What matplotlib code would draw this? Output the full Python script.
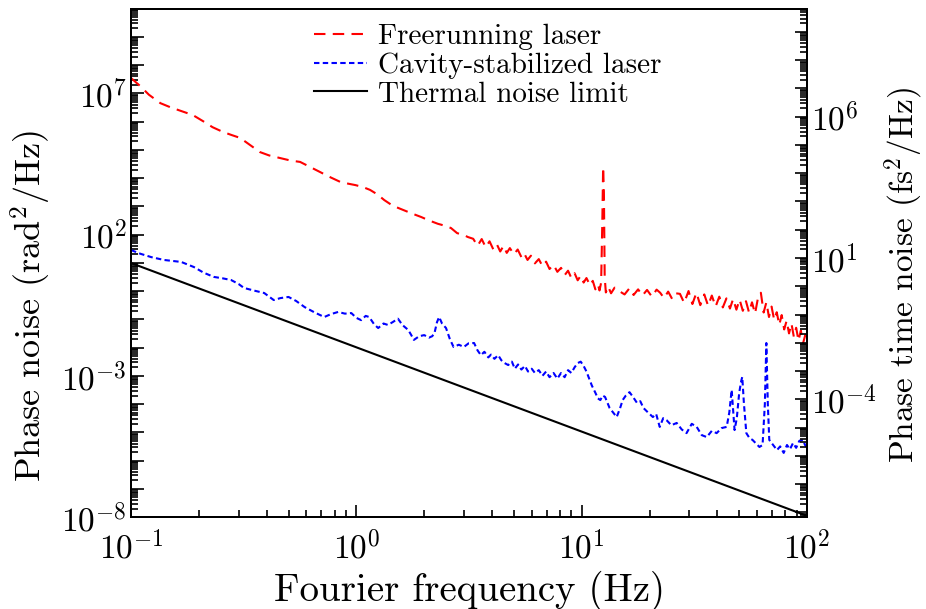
import numpy as np
import matplotlib
matplotlib.use("Agg")
import matplotlib.pyplot as plt
from matplotlib.ticker import FixedLocator, FuncFormatter, NullFormatter

plt.rcParams['font.family'] = 'serif'
plt.rcParams['font.serif'] = ['cmr10', 'DejaVu Serif']
plt.rcParams['mathtext.fontset'] = 'cm'
plt.rcParams['axes.unicode_minus'] = False
plt.rcParams['axes.formatter.use_mathtext'] = True

# free running laser (Hz, log10 rad^2/Hz)
free_f = [0.1, 0.11, 0.12, 0.135, 0.15, 0.17, 0.188, 0.21, 0.23, 0.256, 0.28, 0.305, 0.34, 0.373,
          0.41, 0.458, 0.51, 0.563, 0.62, 0.69, 0.77, 0.85, 0.92, 0.99, 1.07, 1.15, 1.24, 1.33, 1.45,
          1.6, 1.77, 1.94, 2.1, 2.3, 2.45, 2.63, 2.8, 3.0, 3.13,
          3.3, 3.45, 3.6, 3.75, 3.9, 4.05, 4.2, 4.35, 4.5, 4.65, 4.8, 5.0, 5.2, 5.4, 5.55, 5.75, 5.95,
          6.2, 6.45, 6.7, 6.95, 7.2, 7.5, 7.8, 8.1, 8.4, 8.7, 9.0, 9.3, 9.6, 9.9, 10.2, 10.5, 10.9,
          11.2, 11.5, 11.8, 12.0, 12.2, 12.35, 12.45, 12.55, 12.65, 12.8, 13.1, 13.5, 14.0, 14.8,
          15.5, 16.3, 17.0, 17.8, 18.6, 19.5, 20.5, 21.5, 22.3, 23.2, 24.2, 25.2, 26.2, 27.3, 28.5,
          29.8, 31.0, 32.3, 33.6, 35.0, 36.4, 37.8, 39.3, 40.8, 42.3, 43.9, 45.5, 47.0, 48.6, 50.2,
          51.9, 53.6, 55.3, 57.0, 58.8, 60.6, 62.4, 64.2, 66.0, 67.8, 69.6, 71.5, 73.4, 75.3, 77.2,
          79.2, 81.2, 83.2, 85.3, 87.4, 89.5, 91.7, 93.9, 96.1, 98.3, 100.0]
free_log = [7.54, 7.25, 6.95, 6.65, 6.5, 6.35, 6.23, 6.0, 5.8, 5.63, 5.52, 5.42, 5.15, 4.92,
            4.8, 4.71, 4.62, 4.57, 4.4, 4.21, 4.02, 3.86, 3.8, 3.75, 3.68, 3.58, 3.42, 3.22, 3.02,
            2.88, 2.74, 2.62, 2.5, 2.38, 2.32, 2.23, 2.05, 1.98, 1.91,
            1.85, 1.6, 1.84, 1.55, 1.76, 1.48, 1.66, 1.4, 1.6, 1.35, 1.52, 1.3, 1.47, 1.2, 1.34,
            1.1, 1.25, 0.98, 1.13, 0.88, 1.04, 0.78, 0.93, 0.68, 0.82, 0.56, 0.72, 0.46, 0.63, 0.38,
            0.54, 0.3, 0.46, 0.2, 0.36, 0.06, 0.24, 0.02, 0.3, 2.5, 4.39, 3.5, 0.5, -0.05, 0.16,
            -0.08, 0.12, -0.02, -0.12, 0.1, -0.14, 0.06, -0.16, 0.04, -0.2, 0.05, -0.06, -0.25,
            -0.02, -0.28, -0.08, -0.1, -0.42, 0.0, -0.46, -0.06, -0.5, -0.12, -0.52, -0.16, -0.55,
            -0.2, -0.58, -0.26, -0.62, -0.28, -0.66, -0.3, -0.7, -0.36, -0.76, -0.4, -0.8, -0.24,
            -0.06, -0.76, -0.4, -0.92, -0.55, -1.02, -0.75, -1.2, -0.85, -1.36, -1.05, -1.5, -1.15,
            -1.62, -1.3, -1.76, -1.4, -1.84, -1.55, -1.85]

# cavity stabilized laser
cav_f = [0.1, 0.11, 0.123, 0.14, 0.167, 0.19, 0.21, 0.233, 0.255, 0.278, 0.3, 0.317, 0.35, 0.39,
         0.43, 0.46, 0.5, 0.54, 0.59, 0.65, 0.72, 0.77, 0.83, 0.89, 0.95, 1.0, 1.05, 1.1, 1.14, 1.2,
         1.25, 1.32, 1.38, 1.45, 1.53, 1.6, 1.7, 1.75, 1.8, 1.9, 2.0, 2.1, 2.17, 2.22, 2.28, 2.33,
         2.4, 2.5, 2.6, 2.7, 2.85, 3.0, 3.15, 3.33, 3.45, 3.57, 3.7, 3.85, 3.96, 4.1, 4.26, 4.4,
         4.55, 4.72, 4.9, 5.05, 5.22, 5.4, 5.6, 5.78, 6.0, 6.2, 6.45, 6.7, 6.95, 7.2, 7.5, 7.8, 8.1,
         8.4, 8.7, 9.0, 9.3, 9.6, 9.9, 10.2, 10.5, 10.8, 11.1, 11.5, 11.8, 12.1, 12.4, 12.7, 13.0,
         13.3, 13.8, 14.3, 14.8, 15.2, 15.7, 16.3, 16.9, 17.6, 18.2, 18.8, 19.7, 20.7, 21.4, 22.2,
         23.0, 23.8, 25.0, 26.4, 27.8, 29.2, 30.8, 32.4, 34.1, 35.9, 37.8, 39.7, 41.8, 44.0, 45.2,
         46.3, 47.0, 47.7, 48.8, 50.0, 51.0, 51.6, 52.5, 53.8, 55.5, 57.3, 59.4, 61.5, 63.5, 65.0,
         66.0, 67.0, 68.0, 70.7, 73.6, 76.0, 78.8, 81.5, 84.0, 86.7, 89.5, 92.5, 96.0, 98.0, 100.0]
cav_log = [1.45, 1.32, 1.2, 1.1, 1.03, 0.85, 0.65, 0.5, 0.45, 0.39, 0.25, 0.11, 0.02, -0.07,
           -0.32, -0.25, -0.21, -0.35, -0.57, -0.75, -0.92, -0.82, -0.74, -0.8, -0.78, -0.95, -1.03,
           -0.88, -0.92, -1.18, -1.31, -1.15, -1.2, -1.1, -0.98, -1.2, -1.38, -1.55, -1.73, -1.6,
           -1.56, -1.65, -1.6, -1.5, -1.1, -0.92, -1.15, -1.31, -1.7, -1.98, -1.9, -1.98, -1.85,
           -1.84, -2.1, -2.27, -2.15, -2.35, -2.25, -2.4, -2.27, -2.45, -2.55, -2.62, -2.5, -2.75,
           -2.6, -2.78, -2.65, -2.85, -2.75, -2.9, -2.8, -3.0, -2.85, -3.05, -2.9, -3.1, -2.9,
           -3.05, -2.8, -2.9, -2.7, -2.55, -2.5, -2.65, -2.85, -3.1, -3.35, -3.6, -3.8, -3.86,
           -3.7, -3.75, -3.95, -4.14, -4.3, -4.46, -4.15, -3.86, -3.7, -3.58, -3.75, -3.96, -3.9,
           -4.14, -4.3, -4.46, -4.35, -4.81, -4.5, -4.57, -4.75, -4.67, -4.9, -5.03, -4.7, -4.81,
           -5.1, -5.17, -4.95, -5.03, -4.85, -4.81, -4.3, -3.5, -4.2, -4.92, -4.5, -3.61, -3.2,
           -3.04, -4.0, -5.03, -5.2, -5.27, -5.4, -5.52, -5.45, -4.0, -1.84, -4.0, -5.27, -5.45,
           -5.63, -5.5, -5.73, -5.45, -5.6, -5.38, -5.55, -5.3, -5.27, -5.45, -5.52]

# thermal noise limit end points
thermal_f = [0.1, 100.0]
thermal_S = [9.8, 1.1e-8]

# phase -> phase time (fs^2/Hz) at 1550 nm
nu = 193.4e12
conv = 1e30 / (2 * np.pi * nu) ** 2

left_labels = [7, 2, -3, -8]
right_labels = [6, 1, -4]

fig = plt.figure(figsize=(9.26, 6.09), dpi=100)
ax = fig.add_axes([0.1415, 0.151, 0.73, 0.835])

ax.plot(free_f, 10 ** np.array(free_log), color='red', lw=1.5, dashes=(5.5, 3.5),
        label='Freerunning laser')
ax.plot(cav_f, 10 ** np.array(cav_log), color='blue', lw=1.5, dashes=(2.6, 1.6),
        label='Cavity-stabilized laser')
ax.plot(thermal_f, thermal_S, color='black', lw=1.5, label='Thermal noise limit')

ax.set_xscale('log')
ax.set_yscale('log')
ax.set_xlim(0.1, 100)
ax.set_ylim(1e-8, 1e10)

def dec_fmt(labels):
    def f(v, pos):
        e = int(round(np.log10(v)))
        return r'$10^{%d}$' % e if e in labels else ''
    return FuncFormatter(f)

subs = [m * 10.0 ** e for e in range(-10, 12) for m in range(2, 10)]
ax.yaxis.set_major_locator(FixedLocator([10.0 ** e for e in range(-8, 11)]))
ax.yaxis.set_major_formatter(dec_fmt(left_labels))
ax.yaxis.set_minor_locator(FixedLocator(subs))
ax.yaxis.set_minor_formatter(NullFormatter())
ax.xaxis.set_major_locator(FixedLocator([0.1, 1, 10, 100]))
ax.xaxis.set_major_formatter(dec_fmt([-1, 0, 1, 2]))
ax.xaxis.set_minor_locator(FixedLocator(subs))
ax.xaxis.set_minor_formatter(NullFormatter())

ax.tick_params(which='both', direction='in', top=False, right=False, width=1.2, labelsize=24)
ax.tick_params(which='major', length=9)
ax.tick_params(which='minor', length=5)
ax.tick_params(axis='x', pad=9)
ax.tick_params(axis='y', pad=3)
for s in ax.spines.values():
    s.set_linewidth(1.4)

ax.set_xlabel('Fourier frequency (Hz)', fontsize=28)
ax.set_ylabel(r'Phase noise (rad$^2$/Hz)', fontsize=26)
ax.yaxis.set_label_coords(-0.116, 0.415)

ax2 = ax.twinx()
ax2.set_yscale('log')
ax2.set_ylim(1e-8 * conv, 1e10 * conv)
ax2.yaxis.set_major_locator(FixedLocator([10.0 ** e for e in range(-9, 11)]))
ax2.yaxis.set_major_formatter(dec_fmt(right_labels))
ax2.yaxis.set_minor_locator(FixedLocator(subs))
ax2.yaxis.set_minor_formatter(NullFormatter())
ax2.tick_params(which='both', direction='in', width=1.2, labelsize=24, pad=3)
ax2.tick_params(which='major', length=9)
ax2.tick_params(which='minor', length=5)
ax2.set_ylabel(r'Phase time noise (fs$^2$/Hz)', fontsize=24)
ax2.yaxis.set_label_coords(1.112, 0.476)
for s in ax2.spines.values():
    s.set_linewidth(1.4)

ax.legend(loc='upper center', bbox_to_anchor=(0.528, 1.0), frameon=False, fontsize=21,
          handlelength=1.8, handletextpad=0.4, labelspacing=0.08, borderaxespad=0.12)

fig.savefig('out.png', dpi=100)
